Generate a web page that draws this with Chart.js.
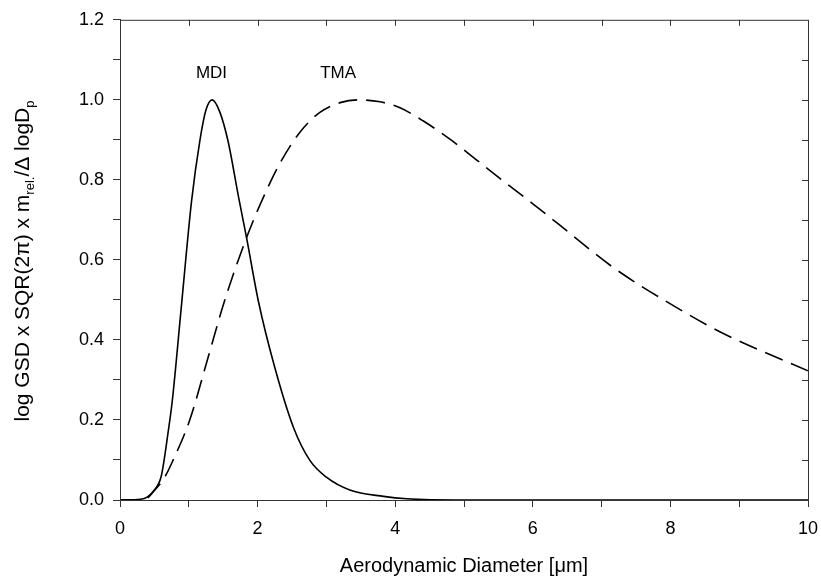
<!DOCTYPE html>
<html>
<head>
<meta charset="utf-8">
<script src="https://cdn.jsdelivr.net/npm/chart.js@4"></script>
<style>
  body { margin: 0; background: #fff; }
  canvas { display: block; }
</style>
</head>
<body>
<canvas id="sizeChart" width="821" height="580"></canvas>
<script>
// values
const mdiX = [0, 0.3, 0.4, 0.5, 0.6, 0.7, 0.76, 0.89, 1.04, 1.16, 1.25, 1.34, 1.45, 1.57, 1.72, 1.84, 2.01, 2.25, 2.52, 2.76, 3.0, 3.34, 3.83, 4.17, 5, 10];
const mdiY = [0, 0.002, 0.008, 0.025, 0.06, 0.17, 0.248, 0.48, 0.747, 0.897, 0.975, 1.0, 0.97, 0.897, 0.76, 0.655, 0.498, 0.331, 0.182, 0.099, 0.057, 0.025, 0.009, 0.003, 0, 0];

const tmaX = [0, 0.3, 0.4, 0.48, 0.65, 0.77, 1.01, 1.28, 1.52, 1.84, 2.08, 2.32, 2.61, 2.9, 3.2, 3.46, 3.78, 4.07, 4.41, 4.8, 5.19, 5.57, 6.01, 6.37, 7.17, 8.0, 8.77, 10];
const tmaY = [0, 0.001, 0.005, 0.02, 0.057, 0.099, 0.198, 0.356, 0.498, 0.656, 0.755, 0.84, 0.918, 0.968, 0.993, 1.0, 0.995, 0.98, 0.947, 0.901, 0.849, 0.797, 0.739, 0.69, 0.581, 0.49, 0.416, 0.323];

const seriesLabels = [
  { text: 'MDI', x: 1.33, y: 1.067 },
  { text: 'TMA', x: 3.17, y: 1.067 }
];

const xTitle = 'Aerodynamic Diameter [\u03bcm]';

const toPoints = (xs, ys) => xs.map((x, i) => ({ x: x, y: ys[i] }));

const axisColor = '#333';
const fontFam = '"Liberation Sans", Arial, sans-serif';

// frame, inner ticks on top/right, curve labels and axis titles
const extras = {
  id: 'extras',
  afterDraw(chart) {
    const ctx = chart.ctx;
    const a = chart.chartArea;
    const xs = chart.scales.x, ys = chart.scales.y;
    ctx.save();
    ctx.strokeStyle = axisColor;
    ctx.lineWidth = 1;
    ctx.strokeRect(a.left + 0.5, a.top + 0.5, a.right - a.left, a.bottom - a.top);
    ctx.beginPath();
    for (let v = 1; v < 10; v++) {
      const px = Math.round(xs.getPixelForValue(v)) + 0.5;
      ctx.moveTo(px, a.top);
      ctx.lineTo(px, a.top + 6);
    }
    for (let k = 1; k < 12; k++) {
      const py = Math.round(ys.getPixelForValue(k / 10)) + 0.5;
      ctx.moveTo(a.right, py);
      ctx.lineTo(a.right - 6, py);
    }
    ctx.stroke();

    ctx.fillStyle = '#000';
    ctx.font = '17px ' + fontFam;
    ctx.textAlign = 'center';
    ctx.textBaseline = 'middle';
    seriesLabels.forEach(l => {
      ctx.fillText(l.text, xs.getPixelForValue(l.x), ys.getPixelForValue(l.y));
    });

    // x title
    ctx.font = '20px ' + fontFam;
    ctx.fillText(xTitle, (a.left + a.right) / 2, 566);

    // y title with subscripts
    const parts = [
      { t: 'log GSD x SQR(2\u03c0) x m', sub: false },
      { t: 'rel.', sub: true },
      { t: '/\u0394 logD', sub: false },
      { t: 'p', sub: true }
    ];
    const big = '21px ' + fontFam, small = '13px ' + fontFam;
    let total = 0;
    parts.forEach(p => { ctx.font = p.sub ? small : big; total += ctx.measureText(p.t).width; });
    ctx.translate(23, 261);
    ctx.rotate(-Math.PI / 2);
    ctx.textAlign = 'left';
    ctx.textBaseline = 'alphabetic';
    let cx = -total / 2;
    parts.forEach(p => {
      ctx.font = p.sub ? small : big;
      ctx.fillText(p.t, cx, p.sub ? 11 : 6);
      cx += ctx.measureText(p.t).width;
    });
    ctx.restore();
  }
};

new Chart(document.getElementById('sizeChart'), {
  type: 'scatter',
  data: {
    datasets: [
      {
        label: 'MDI',
        data: toPoints(mdiX, mdiY),
        showLine: true,
        borderColor: '#000',
        borderWidth: 1.6,
        pointRadius: 0,
        cubicInterpolationMode: 'monotone'
      },
      {
        label: 'TMA',
        data: toPoints(tmaX, tmaY),
        showLine: true,
        borderColor: '#000',
        borderWidth: 1.6,
        borderDash: [19, 9],
        pointRadius: 0,
        cubicInterpolationMode: 'monotone'
      }
    ]
  },
  options: {
    responsive: false,
    animation: false,
    layout: { padding: { left: 0, top: 18, right: 13, bottom: 0 } },
    plugins: {
      legend: { display: false },
      tooltip: { enabled: false }
    },
    scales: {
      x: {
        type: 'linear',
        min: 0,
        max: 10,
        afterFit: s => { s.height = 80; s.paddingRight = 0; s.paddingLeft = 0; },
        ticks: {
          stepSize: 1,
          autoSkip: false,
          maxRotation: 0,
          padding: 11,
          color: '#000',
          font: { size: 18, family: fontFam },
          callback: v => (v % 2 === 0 ? v : '')
        },
        grid: { drawOnChartArea: false, tickLength: 7, color: axisColor },
        border: { color: axisColor }
      },
      y: {
        min: 0,
        max: 1.2,
        afterFit: s => { s.width = 120; },
        ticks: {
          stepSize: 0.1,
          autoSkip: false,
          padding: 9,
          color: '#000',
          font: { size: 18, family: fontFam },
          callback: v => (Math.round(v * 10) % 2 === 0 ? v.toFixed(1) : '')
        },
        grid: { drawOnChartArea: false, tickLength: 7, color: axisColor },
        border: { color: axisColor }
      }
    }
  },
  plugins: [extras]
});
</script>
</body>
</html>
